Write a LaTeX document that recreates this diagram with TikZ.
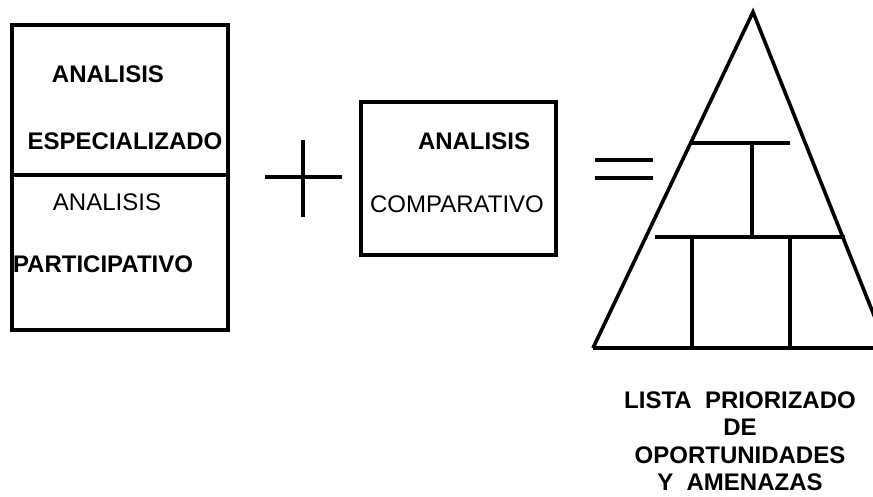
\documentclass[tikz,border=0pt]{standalone}
\usepackage{fontspec}
\setmainfont{Liberation Sans}
\begin{document}
\begin{tikzpicture}[x=1pt,y=-1pt,
  box/.style={draw,line width=3.6pt},
  ln/.style={line width=3.6pt},
  bx/.style={font=\fontsize{24}{24}\selectfont\bfseries,inner sep=0pt,anchor=center},
  rg/.style={font=\fontsize{24}{24}\selectfont,inner sep=0pt,anchor=center},
  captext/.style={font=\fontsize{24}{27.5}\selectfont\bfseries,align=center,inner sep=0pt}]
\useasboundingbox (0,0) rectangle (873,496);
% left box
\draw[box] (12,25) rectangle (228,330);
\draw[ln] (12,175) -- (228,175);
\node[bx] (a1) at (108,74) {ANALISIS};
\node[bx] (e1) at (125,141) {ESPECIALIZADO};
\node[rg] (a2) at (107,202) {ANALISIS};
\node[bx] (p1) at (103,264) {PARTICIPATIVO};
% plus
\coordinate (pl) at (265,177);
\coordinate (pr) at (342,177);
\coordinate (pt) at (303,140);
\coordinate (pb) at (303,217);
\draw[line width=3.2pt] (pl) -- (pr);
\draw[line width=3.2pt] (pt) -- (pb);
% middle box
\draw[box] (361,102) rectangle (556,255);
\node[bx] (a3) at (474,141) {ANALISIS};
\node[rg] (c1) at (457,204) {COMPARATIVO};
% equals
\coordinate (e1l) at (595,160);
\coordinate (e1r) at (653,160);
\coordinate (e2l) at (595,178);
\coordinate (e2r) at (653,178);
\draw[line width=3.4pt] (e1l) -- (e1r);
\draw[line width=3.4pt] (e2l) -- (e2r);
% pyramid
\coordinate (apex) at (753,12);
\coordinate (bl) at (593,348);
\coordinate (br) at (887,348);
\draw[ln] (bl) -- (apex) -- (br);
\draw[ln] (bl) -- (873,348);
\draw[ln] (692,143) -- (790,143);
\draw[ln] (752,143) -- (752,237);
\draw[ln] (655,237) -- (845,237);
\draw[ln] (692,237) -- (692,348);
\draw[ln] (790,237) -- (790,348);
\node[captext] (lista) at (740,441) {LISTA\ \ PRIORIZADO\\DE\\OPORTUNIDADES\\Y\ \ AMENAZAS};
\end{tikzpicture}
\end{document}
